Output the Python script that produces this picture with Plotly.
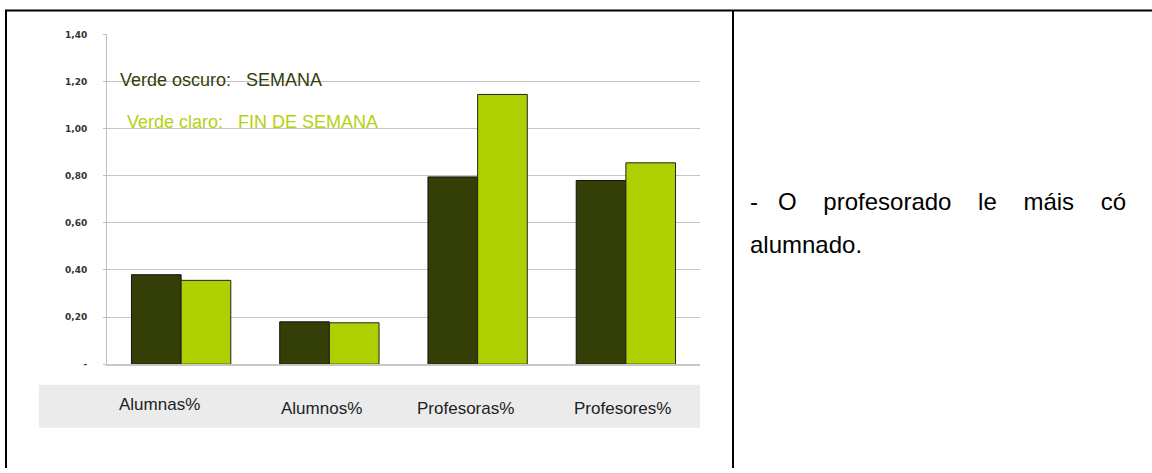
import plotly.graph_objects as go

W, H = 1152, 473

categories = ["Alumnas%", "Alumnos%", "Profesoras%", "Profesores%"]
semana = [0.38, 0.18, 0.795, 0.78]
fin_de_semana = [0.356, 0.176, 1.145, 0.855]
tick_vals = [0, 0.2, 0.4, 0.6, 0.8, 1.0, 1.2, 1.4]
tick_text = ["-", "0,20", "0,40", "0,60", "0,80", "1,00", "1,20", "1,40"]

DARK = "#333F07"
LIGHT = "#AECF00"
FONT = "Liberation Sans, Arial, sans-serif"


def px_x(x):
    return x / W


def px_y(y):
    return 1 - y / H


fig = go.Figure()
fig.add_trace(go.Bar(x=categories, y=semana, name="SEMANA",
                     marker=dict(color=DARK, line=dict(color="#111", width=1))))
fig.add_trace(go.Bar(x=categories, y=fin_de_semana, name="FIN DE SEMANA",
                     marker=dict(color=LIGHT, line=dict(color="#222", width=1))))

fig.update_layout(
    width=W, height=H,
    margin=dict(l=0, r=0, t=0, b=0),
    paper_bgcolor="white", plot_bgcolor="white",
    barmode="group", bargap=0.33, bargroupgap=0,
    showlegend=False,
    font=dict(family=FONT, color="#222"),
)
fig.update_xaxes(
    domain=[px_x(107), px_x(700)],
    showticklabels=False, showgrid=False,
    showline=True, linecolor="#C8C8C8", linewidth=2,
)
fig.update_yaxes(
    domain=[px_y(367), px_y(30)],
    range=[0, 1.4],
    tickvals=tick_vals, ticktext=tick_text,
    tickfont=dict(family="DejaVu Sans", size=9, color="#333", weight="bold"),
    ticks="outside", ticklen=3, tickcolor="#BFBFBF",
    ticklabelstandoff=14,
    showgrid=True, gridcolor="#C4C4C4", gridwidth=1,
    showline=True, linecolor="#BFBFBF", linewidth=1,
    zeroline=False,
)

# gray category band
fig.add_shape(type="rect", xref="paper", yref="paper", layer="below",
              x0=px_x(39), x1=px_x(700), y0=px_y(432), y1=px_y(388),
              fillcolor="#EBEBEB", line_width=0)

# category labels in the band
label_shift = [-22, -8, -12, -3]
label_yshift = [2, -2, -2, -2]
for cat, dx, dy in zip(categories, label_shift, label_yshift):
    fig.add_annotation(x=cat, xref="x", y=px_y(410), yref="paper",
                       yanchor="middle", text=cat, showarrow=False,
                       xshift=dx, yshift=dy,
                       font=dict(family=FONT, size=17, color="#222"))

# legend-like notes
nb = "\u00a0"
fig.add_annotation(x=px_x(118), y=px_y(77), xref="paper", yref="paper",
                   xanchor="left", yanchor="middle", showarrow=False,
                   text=f"Verde oscuro:{nb*3}SEMANA",
                   font=dict(family=FONT, size=18, color="#333F0A"))
fig.add_annotation(x=px_x(125), y=px_y(120), xref="paper", yref="paper",
                   xanchor="left", yanchor="middle", showarrow=False,
                   text=f"Verde claro:{nb*3}FIN DE SEMANA",
                   font=dict(family=FONT, size=18, color="#B5D10F"))

# table borders
border = dict(color="black", width=2)
fig.add_shape(type="line", xref="paper", yref="paper",
              x0=px_x(6), x1=px_x(6), y0=0, y1=px_y(5), line=border)
fig.add_shape(type="line", xref="paper", yref="paper",
              x0=px_x(5), x1=1, y0=px_y(5.5), y1=px_y(5.5), line=border)
fig.add_shape(type="line", xref="paper", yref="paper",
              x0=px_x(733), x1=px_x(733), y0=0, y1=px_y(5), line=border)

# side text (justified line, hence the wide gaps)
words = ["O", "profesorado", "le", "máis", "có"]
fig.add_annotation(x=px_x(748), y=px_y(201), xref="paper", yref="paper",
                   xanchor="left", yanchor="middle", showarrow=False,
                   text="-" + nb * 3 + (nb * 4).join(words),
                   font=dict(family=FONT, size=24, color="black"))
fig.add_annotation(x=px_x(748), y=px_y(245), xref="paper", yref="paper",
                   xanchor="left", yanchor="middle", showarrow=False,
                   text="alumnado.",
                   font=dict(family=FONT, size=24, color="black"))

fig.write_html("out.html", config={"displayModeBar": False},
               post_script="document.body.style.margin = '0';")
